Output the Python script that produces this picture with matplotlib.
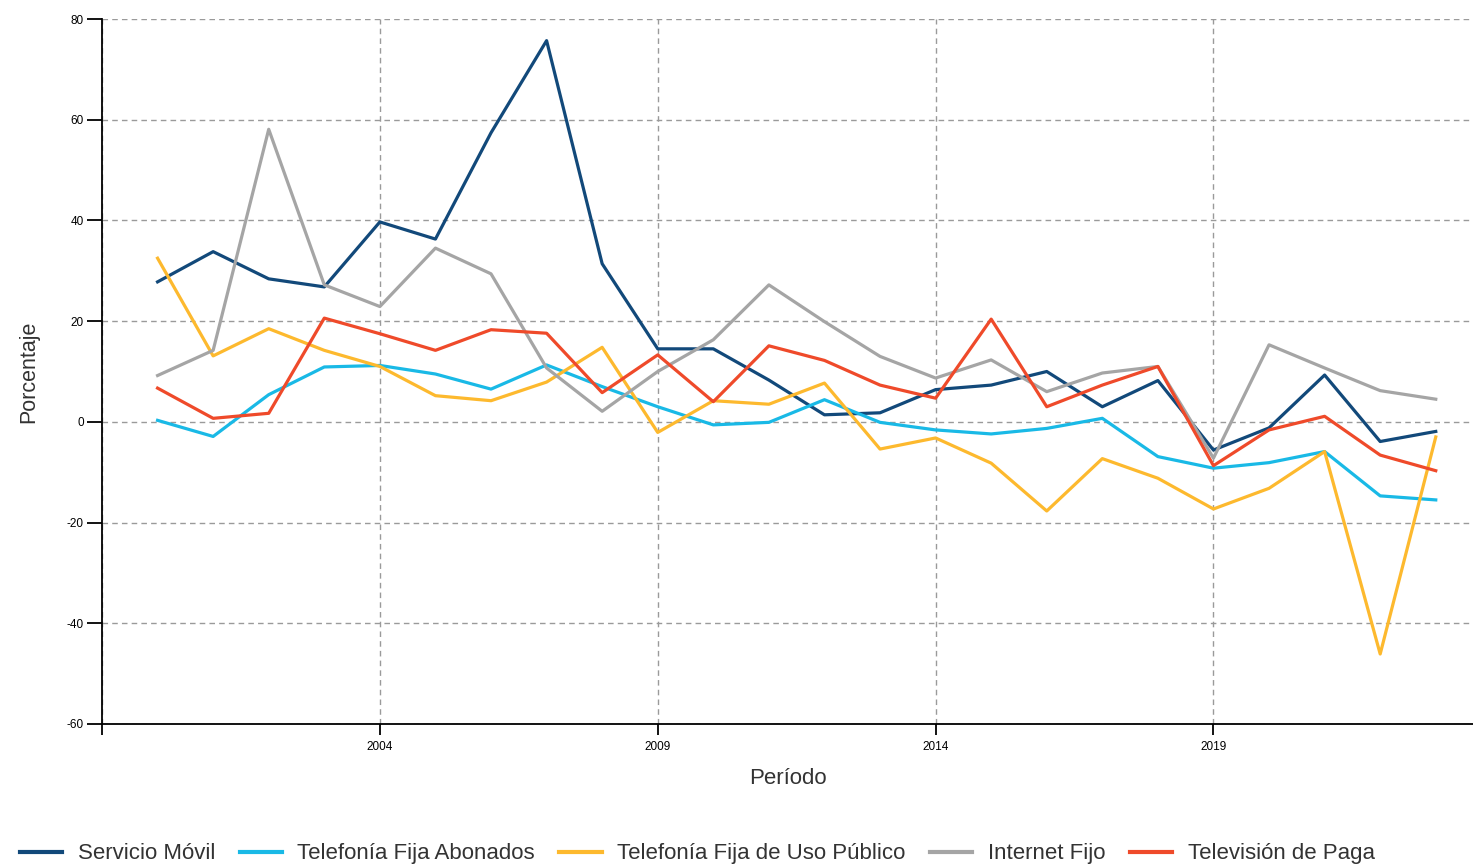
import matplotlib
matplotlib.use("Agg")
import matplotlib.pyplot as plt

plt.rcParams['font.family'] = ['Liberation Sans', 'DejaVu Sans']
plt.rcParams['axes.unicode_minus'] = False

# Datos (variación anual, %)
anios = list(range(2000, 2024))

servicio_movil = [27.8, 33.8, 28.4, 26.8, 39.7, 36.3, 57.4, 75.7, 31.4, 14.5, 14.5, 8.3,
                  1.4, 1.8, 6.4, 7.3, 10.0, 3.0, 8.2, -5.6, -1.2, 9.3, -3.9, -1.9]
fija_abonados = [0.3, -2.9, 5.4, 10.9, 11.2, 9.5, 6.5, 11.3, 7.0, 3.0, -0.6, -0.1,
                 4.4, -0.1, -1.6, -2.4, -1.3, 0.7, -6.9, -9.2, -8.1, -5.9, -14.7, -15.5]
fija_uso_publico = [32.5, 13.1, 18.5, 14.2, 11.0, 5.2, 4.2, 7.9, 14.8, -2.1, 4.2, 3.5,
                    7.7, -5.4, -3.2, -8.2, -17.7, -7.3, -11.2, -17.3, -13.2, -5.9, -46.1, -3.0]
internet_fijo = [9.2, 14.2, 58.1, 27.2, 22.9, 34.5, 29.4, 10.7, 2.1, 10.0, 16.3, 27.2,
                 19.9, 13.0, 8.7, 12.3, 6.0, 9.7, 11.0, -7.2, 15.3, 10.7, 6.2, 4.5]
tv_paga = [6.7, 0.7, 1.7, 20.6, 17.5, 14.2, 18.3, 17.6, 5.8, 13.3, 4.0, 15.1,
           12.2, 7.3, 4.7, 20.4, 3.0, 7.3, 11.0, -8.7, -1.6, 1.1, -6.6, -9.7]

series = [
    ('Servicio Móvil', servicio_movil, '#12497a'),
    ('Telefonía Fija Abonados', fija_abonados, '#19b9e6'),
    ('Telefonía Fija de Uso Público', fija_uso_publico, '#fdb92e'),
    ('Internet Fijo', internet_fijo, '#a5a5a5'),
    ('Televisión de Paga', tv_paga, '#ef4a2a'),
]

fig = plt.figure(figsize=(14.73, 8.66), dpi=100)
ax = fig.add_axes([102 / 1473, 1 - 724 / 866, 1 - 102 / 1473, (724 - 19) / 866])

for nombre, valores, color in series:
    ax.plot(anios, valores, color=color, linewidth=2.3, label=nombre)

ax.set_xlim(1999, 2023.67)
ax.set_ylim(-60, 80)
ax.set_yticks(range(-60, 81, 20))
ax.set_xticks([1999, 2004, 2009, 2014, 2019])
ax.set_xticklabels(['', '2004', '2009', '2014', '2019'])

# Rejilla punteada
ax.grid(True, linestyle=(0, (4, 3)), color='#9a9a9a', linewidth=1)
ax.set_axisbelow(True)

for lado in ['top', 'right']:
    ax.spines[lado].set_visible(False)
ax.spines['left'].set_linewidth(1.3)
ax.spines['bottom'].set_linewidth(1.3)
ax.tick_params(axis='y', length=11, width=1.3, pad=2, labelsize=8.5, colors='black')
ax.tick_params(axis='x', length=8, width=1.3, pad=4, labelsize=8.5)

ax.set_xlabel('Período', fontsize=16, color='#333333', labelpad=11)
ax.set_ylabel('Porcentaje', fontsize=15.5, color='#333333', labelpad=20)

# Leyenda abajo
fig.legend(loc='center left', bbox_to_anchor=(0.0, 0.014), ncol=5, frameon=False,
           fontsize=16, handlelength=1.9, handletextpad=0.7, columnspacing=1.1,
           labelcolor='#333333')
for linea in fig.legends[0].get_lines():
    linea.set_linewidth(3)

fig.savefig('out.png', dpi=100)
